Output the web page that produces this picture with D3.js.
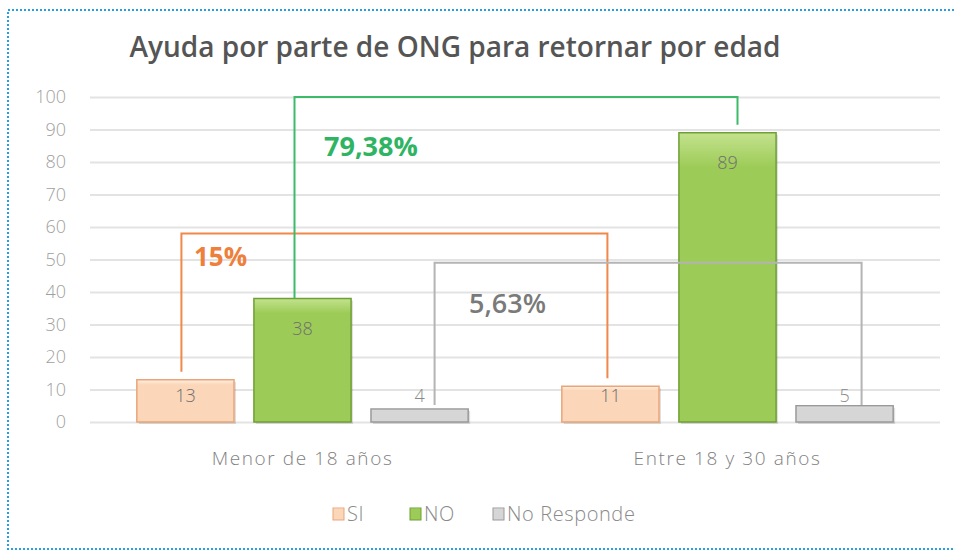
<!DOCTYPE html>
<html>
<head>
<meta charset="utf-8">
<script src="https://cdn.jsdelivr.net/npm/d3@7"></script>
<style>
  body { margin: 0; background: #fff; }
  text { font-family: "Open Sans", Lato, sans-serif; }
</style>
</head>
<body>
<div id="chart"></div>
<script>
// datos
var categorias = ["Menor de 18 años", "Entre 18 y 30 años"];
var series = ["SI", "NO", "No Responde"];
var valores = [
  [13, 38, 4],  // Menor de 18 años
  [11, 89, 5],  // Entre 18 y 30 años
];
var yTicks = [0, 10, 20, 30, 40, 50, 60, 70, 80, 90, 100];
// corchetes: serie, nivel superior, texto del porcentaje
var corchetes = [
  { serie: "SI", nivel: 58, texto: "15%" },
  { serie: "NO", nivel: 100, texto: "79,38%" },
  { serie: "No Responde", nivel: 49, texto: "5,63%" },
];

var width = 954, height = 553;
var padding = { top: 97, right: 14, bottom: 131, left: 90 };

var colores = {
  "SI": { fill: "#fbd6b9", light: "#fff1e4", stroke: "#e9a579" },
  "NO": { fill: "#9dcb57", light: "#c3e28e", stroke: "#6f9f35" },
  "No Responde": { fill: "#d6d6d6", light: "#f4f4f4", stroke: "#9a9a9a" },
};
var coloresCorchete = { "SI": "#f0884a", "NO": "#3dbb6a", "No Responde": "#b4b4b4" };
var coloresTexto = { "SI": "#ee7f3c", "NO": "#2fb463", "No Responde": "#7a7a7a" };

var svg = d3.select("#chart").append("svg")
  .attr("width", width).attr("height", height);

// borde punteado azul (sin lado derecho)
svg.append("path")
  .attr("d", "M" + width + ",10H8V549H" + width)
  .attr("fill", "none")
  .attr("stroke", "#2a9fe0")
  .attr("stroke-width", 2)
  .attr("stroke-dasharray", "2,2");

// escalas
var yScale = d3.scaleLinear()
  .domain([0, 100])
  .range([height - padding.bottom, padding.top]);
var x0 = d3.scaleBand()
  .domain(categorias)
  .range([padding.left, width - padding.right]);
var x1 = d3.scaleBand()
  .domain(series)
  .range([0, x0.bandwidth()])
  .paddingInner(0.17)
  .paddingOuter(0.4);

// líneas de la cuadrícula
var yAxis = d3.axisLeft(yScale)
  .tickValues(yTicks)
  .tickSize(-(width - padding.right - padding.left))
  .tickPadding(24);
var gY = svg.append("g")
  .attr("transform", "translate(" + padding.left + ",0)")
  .call(yAxis);
gY.select(".domain").remove();
gY.selectAll(".tick line").attr("stroke", "#e3e3e3").attr("stroke-width", 2);
gY.selectAll(".tick text")
  .attr("fill", "#9f9f9f")
  .style("font-size", "18px")
  .style("font-weight", "300")
  .style("font-family", "'Open Sans', sans-serif");

// título
svg.append("text")
  .attr("x", 455).attr("y", 57)
  .attr("text-anchor", "middle")
  .attr("fill", "#555")
  .style("font-size", "28px")
  .style("font-weight", "600")
  .style("font-family", "'Open Sans', sans-serif")
  .text("Ayuda por parte de ONG para retornar por edad");

// degradados para las barras
var defs = svg.append("defs");
series.forEach(function (s, i) {
  var g = defs.append("linearGradient")
    .attr("id", "grad" + i)
    .attr("x1", 0).attr("x2", 0).attr("y1", 0).attr("y2", 1);
  g.append("stop").attr("offset", "0%").attr("stop-color", colores[s].light);
  g.append("stop").attr("offset", "12%").attr("stop-color", colores[s].fill);
  g.append("stop").attr("offset", "100%").attr("stop-color", colores[s].fill);
});

// barras
var grupos = svg.selectAll(".grupo")
  .data(categorias)
  .enter()
  .append("g")
  .attr("class", "grupo")
  .attr("transform", function (d) { return "translate(" + x0(d) + ",0)"; });

var barras = grupos.selectAll("g.barra")
  .data(function (d, i) {
    return series.map(function (s, j) { return { serie: s, idx: j, valor: valores[i][j] }; });
  })
  .enter()
  .append("g")
  .attr("class", "barra");

// sombra
barras.append("rect")
  .attr("x", function (d) { return x1(d.serie) + 2; })
  .attr("y", function (d) { return yScale(d.valor) + 2; })
  .attr("width", x1.bandwidth())
  .attr("height", function (d) { return yScale(0) - yScale(d.valor); })
  .attr("fill", "#000")
  .attr("opacity", 0.12);

barras.append("rect")
  .attr("x", function (d) { return x1(d.serie); })
  .attr("y", function (d) { return yScale(d.valor); })
  .attr("width", x1.bandwidth())
  .attr("height", function (d) { return yScale(0) - yScale(d.valor); })
  .attr("fill", function (d) { return "url(#grad" + d.idx + ")"; })
  .attr("stroke", function (d) { return colores[d.serie].stroke; })
  .attr("stroke-width", 1.5);

// etiquetas de datos
barras.append("text")
  .attr("x", function (d) { return x1(d.serie) + x1.bandwidth() / 2; })
  .attr("y", function (d) { return Math.min(yScale(d.valor) + 30, yScale(8)); })
  .attr("dy", "0.35em")
  .attr("text-anchor", "middle")
  .attr("fill", function (d) { return d.serie === "No Responde" ? "#8a8a8a" : "#6f6f6f"; })
  .style("font-size", "18px")
  .style("font-weight", "300")
  .text(function (d) { return d.valor; });

// eje x (categorías)
svg.selectAll(".cat")
  .data(categorias)
  .enter()
  .append("text")
  .attr("x", function (d) { return x0(d) + x0.bandwidth() / 2; })
  .attr("y", 465)
  .attr("text-anchor", "middle")
  .attr("fill", "#7f7f7f")
  .style("font-size", "19px")
  .style("font-weight", "300")
  .style("letter-spacing", "1.6px")
  .text(function (d) { return d; });

// corchetes entre grupos
var desplazamiento = { "SI": [-4, -3], "NO": [-8, 10], "No Responde": [15, 17] };
corchetes.forEach(function (c) {
  var k = series.indexOf(c.serie);
  var xa = x0(categorias[0]) + x1(c.serie) + x1.bandwidth() / 2 + desplazamiento[c.serie][0];
  var xb = x0(categorias[1]) + x1(c.serie) + x1.bandwidth() / 2 + desplazamiento[c.serie][1];
  var ya = c.serie === "NO" ? yScale(valores[0][k]) : yScale(valores[0][k]) - 8;
  var yb = yScale(valores[1][k]) - 8;
  if (c.serie === "No Responde") { ya = yScale(0) - 17; yb = yScale(0) - 17; }
  var yt = yScale(c.nivel);
  svg.append("path")
    .attr("d", "M" + xa + "," + ya + "V" + yt + "H" + xb + "V" + yb)
    .attr("fill", "none")
    .attr("stroke", coloresCorchete[c.serie])
    .attr("stroke-width", 2);
});

// textos de porcentaje
svg.append("text")
  .attr("x", 324).attr("y", yScale(82))
  .attr("fill", coloresTexto["NO"])
  .style("font-size", "27px").style("font-weight", "bold")
  .text(corchetes[1].texto);
svg.append("text")
  .attr("x", 194).attr("y", yScale(48))
  .attr("fill", coloresTexto["SI"])
  .style("font-size", "26px").style("font-weight", "bold")
  .text(corchetes[0].texto);
svg.append("text")
  .attr("x", 469).attr("y", yScale(33.5))
  .attr("fill", coloresTexto["No Responde"])
  .style("font-size", "27px").style("font-weight", "600")
  .text(corchetes[2].texto);

// leyenda
var leyendaX = [333, 410, 493];
var leyenda = svg.selectAll(".ley")
  .data(series)
  .enter()
  .append("g")
  .attr("transform", function (d, i) { return "translate(" + leyendaX[i] + ",508)"; });
leyenda.append("rect")
  .attr("width", 11).attr("height", 12)
  .attr("fill", function (d, i) { return "url(#grad" + i + ")"; })
  .attr("stroke", function (d) { return colores[d].stroke; });
leyenda.append("text")
  .attr("x", 14).attr("y", 6)
  .attr("dy", "0.35em")
  .attr("fill", "#8a8a8a")
  .style("font-size", "20px")
  .style("font-weight", "300")
  .style("letter-spacing", "0.6px")
  .text(function (d) { return d; });
</script>
</body>
</html>
